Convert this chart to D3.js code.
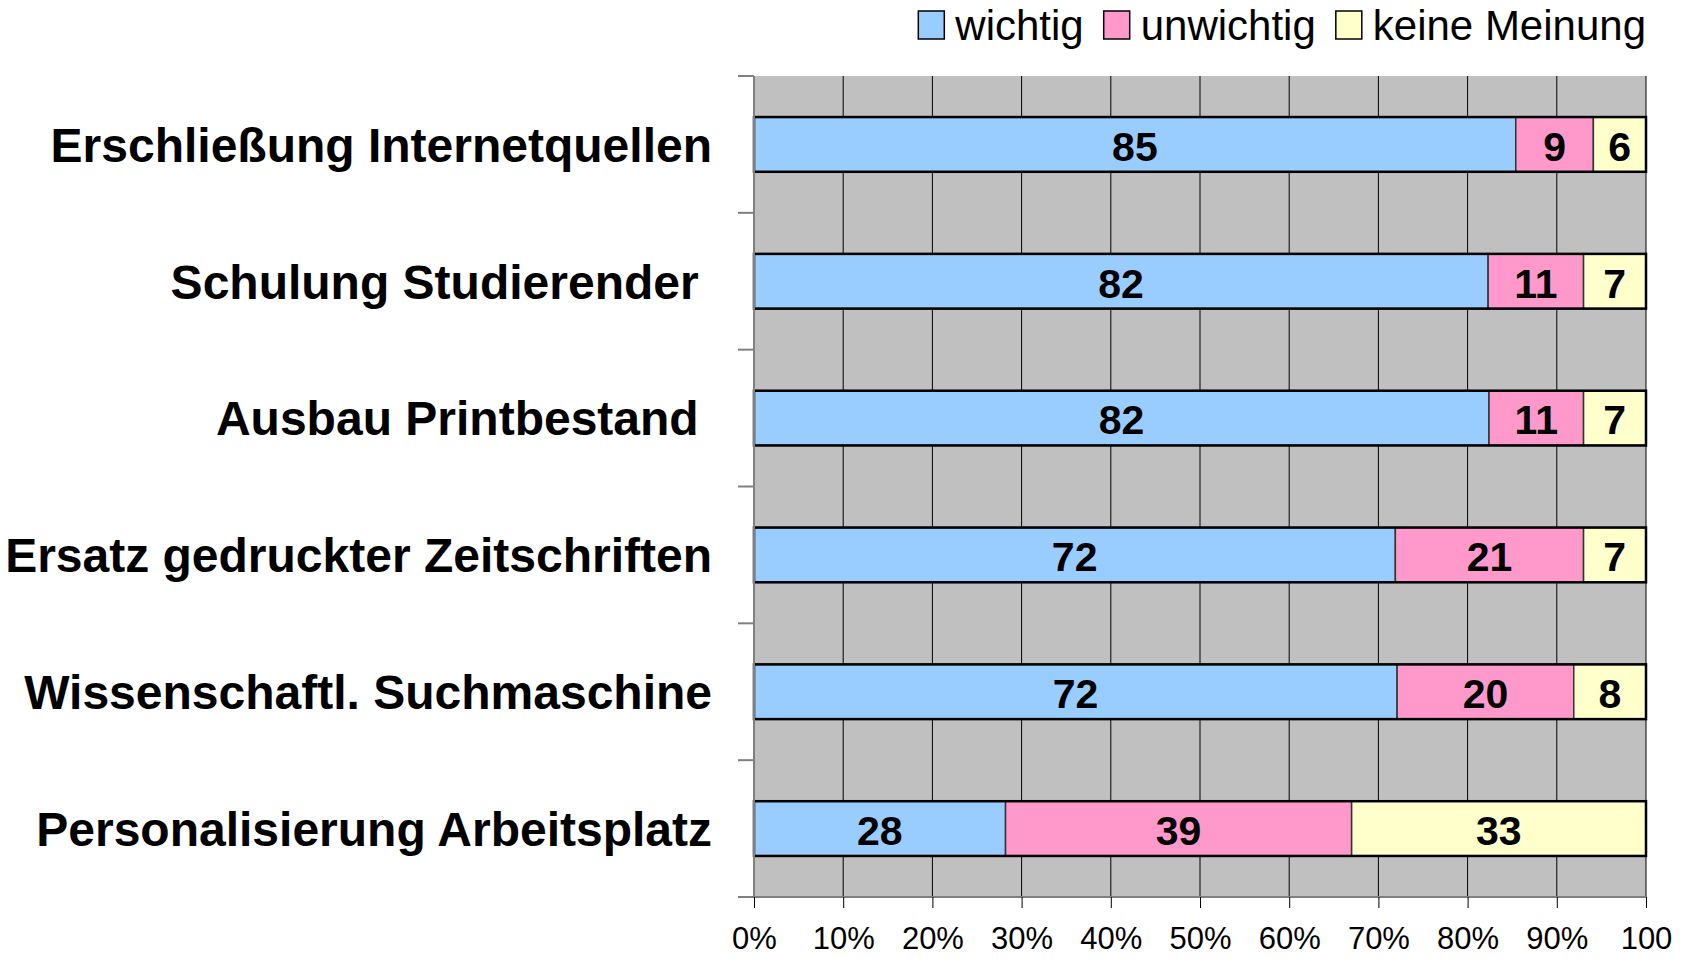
<!DOCTYPE html>
<html>
<head>
<meta charset="utf-8">
<script src="https://cdn.jsdelivr.net/npm/d3@7"></script>
<style>
  body { margin: 0; background: #fff; }
  svg { display: block; font-family: "Liberation Sans", Arial, sans-serif; }
</style>
</head>
<body>
<div id="chart"></div>
<script>
// categories (trailing spaces are in the original labels)
const categories = [
  'Erschließung Internetquellen',
  'Schulung Studierender ',
  'Ausbau Printbestand ',
  'Ersatz gedruckter Zeitschriften',
  'Wissenschaftl. Suchmaschine',
  'Personalisierung Arbeitsplatz'
];
const seriesNames = ['wichtig', 'unwichtig', 'keine Meinung'];
const seriesColors = ['#99CCFF', '#FF99CC', '#FFFFCC'];

// percentages
const wichtig   = [85.4, 82.3, 82.4, 71.9, 72.1, 28.2];
const unwichtig = [8.7, 10.7, 10.6, 21.1, 19.8, 38.8];
const keine     = [5.9, 7.0, 7.0, 7.0, 8.1, 33.0];

const xTicks = [0, 10, 20, 30, 40, 50, 60, 70, 80, 90, 100];
// the original shows the last tick label without its "%"
const xTickLabels = ['0%', '10%', '20%', '30%', '40%', '50%', '60%', '70%', '80%', '90%', '100'];

const W = 1687, H = 959;
const margin = {top: 76, right: 41, bottom: 62, left: 754};
const width = W - margin.left - margin.right,
      height = H - margin.top - margin.bottom;

const svg = d3.select('#chart').append('svg')
  .attr('width', W).attr('height', H);

const g = svg.append('g')
  .attr('transform', 'translate(' + margin.left + ',' + margin.top + ')');

const xScale = d3.scaleLinear().domain([0, 100]).range([0, width]);
// one section per category, bars sit in the middle 40% of it
const yScale = d3.scaleBand().domain(categories).range([0, height]).padding(0);
const barH = yScale.bandwidth() * 0.4;

// plot background
g.append('rect')
  .attr('width', width).attr('height', height)
  .attr('fill', '#C0C0C0');

// vertical grid lines
g.selectAll('.grid')
  .data(xTicks.slice(1))
  .enter().append('line')
  .attr('x1', d => xScale(d)).attr('x2', d => xScale(d))
  .attr('y1', 0).attr('y2', height)
  .attr('stroke', '#000').attr('stroke-width', 1);

// stack the data
const rows = categories.map((c, i) => ({cat: c, wichtig: wichtig[i], unwichtig: unwichtig[i], keine: keine[i]}));
const keys = ['wichtig', 'unwichtig', 'keine'];
const stacked = d3.stack().keys(keys)(rows);

const layers = g.selectAll('.layer')
  .data(stacked)
  .enter().append('g')
  .attr('fill', (d, i) => seriesColors[i]);

layers.selectAll('rect')
  .data(d => d)
  .enter().append('rect')
  .attr('x', d => xScale(d[0]))
  .attr('width', d => xScale(d[1]) - xScale(d[0]))
  .attr('y', d => yScale(d.data.cat) + (yScale.bandwidth() - barH) / 2)
  .attr('height', barH)
  .attr('stroke', '#333')
  .attr('stroke-width', 1.5);

// outer outline of every bar
g.selectAll('.outline')
  .data(rows)
  .enter().append('rect')
  .attr('x', xScale(0))
  .attr('width', d => xScale(d.wichtig + d.unwichtig + d.keine) - xScale(0))
  .attr('y', d => yScale(d.cat) + (yScale.bandwidth() - barH) / 2)
  .attr('height', barH)
  .attr('fill', 'none')
  .attr('stroke', '#000')
  .attr('stroke-width', 2.5);

// value labels
layers.selectAll('text')
  .data(d => d)
  .enter().append('text')
  .attr('x', d => xScale((d[0] + d[1]) / 2))
  .attr('y', d => yScale(d.data.cat) + yScale.bandwidth() / 2)
  .attr('dy', '0.4em')
  .attr('text-anchor', 'middle')
  .attr('font-size', 41)
  .attr('font-weight', 'bold')
  .attr('fill', '#000')
  .text(d => Math.round(d[1] - d[0]));

// left axis: gray line with ticks at section boundaries
const yBounds = categories.map(c => yScale(c)).concat([height]);
g.append('line')
  .attr('x1', 0).attr('x2', 0).attr('y1', 0).attr('y2', height)
  .attr('stroke', '#808080').attr('stroke-width', 2);
g.selectAll('.ytick')
  .data(yBounds)
  .enter().append('line')
  .attr('x1', -16).attr('x2', 0)
  .attr('y1', d => d).attr('y2', d => d)
  .attr('stroke', '#808080').attr('stroke-width', 2);

// category labels
g.selectAll('.cat')
  .data(categories)
  .enter().append('text')
  .attr('x', -42)
  .attr('y', d => yScale(d) + yScale.bandwidth() / 2)
  .attr('dy', '0.36em')
  .attr('text-anchor', 'end')
  .attr('font-size', 48)
  .attr('font-weight', 'bold')
  .style('white-space', 'pre')
  .text(d => d);

// bottom axis
const xAxis = g.append('g')
  .attr('transform', 'translate(0,' + height + ')')
  .call(d3.axisBottom(xScale).tickValues(xTicks).tickSize(11)
    .tickFormat((d, i) => xTickLabels[i]));
xAxis.select('.domain').remove();
xAxis.insert('line', ':first-child')
  .attr('x1', -16).attr('x2', width).attr('y1', 0).attr('y2', 0)
  .attr('stroke', '#808080').attr('stroke-width', 2);
xAxis.selectAll('.tick line').attr('stroke', '#000');
xAxis.selectAll('.tick text')
  .attr('y', 30)
  .attr('font-size', 31)
  .attr('font-family', '"Liberation Sans", Arial, sans-serif')
  .attr('fill', '#000');

// legend, right aligned to the plot edge
const legend = svg.append('g');
const items = legend.selectAll('g')
  .data(seriesNames)
  .enter().append('g');
items.append('rect')
  .attr('width', 26).attr('height', 28)
  .attr('y', 11)
  .attr('fill', (d, i) => seriesColors[i])
  .attr('stroke', '#000').attr('stroke-width', 1.5);
items.append('text')
  .attr('x', 37).attr('y', 40)
  .attr('font-size', 42)
  .text(d => d);
let lx = 0;
const offsets = [];
items.each(function () {
  offsets.push(lx);
  const tw = d3.select(this).select('text').node().getComputedTextLength();
  lx += 37 + tw + 20;
});
const legendW = lx - 20;
items.attr('transform', (d, i) => 'translate(' + offsets[i] + ',0)');
legend.attr('transform', 'translate(' + (margin.left + width - legendW) + ',0)');
</script>
</body>
</html>
